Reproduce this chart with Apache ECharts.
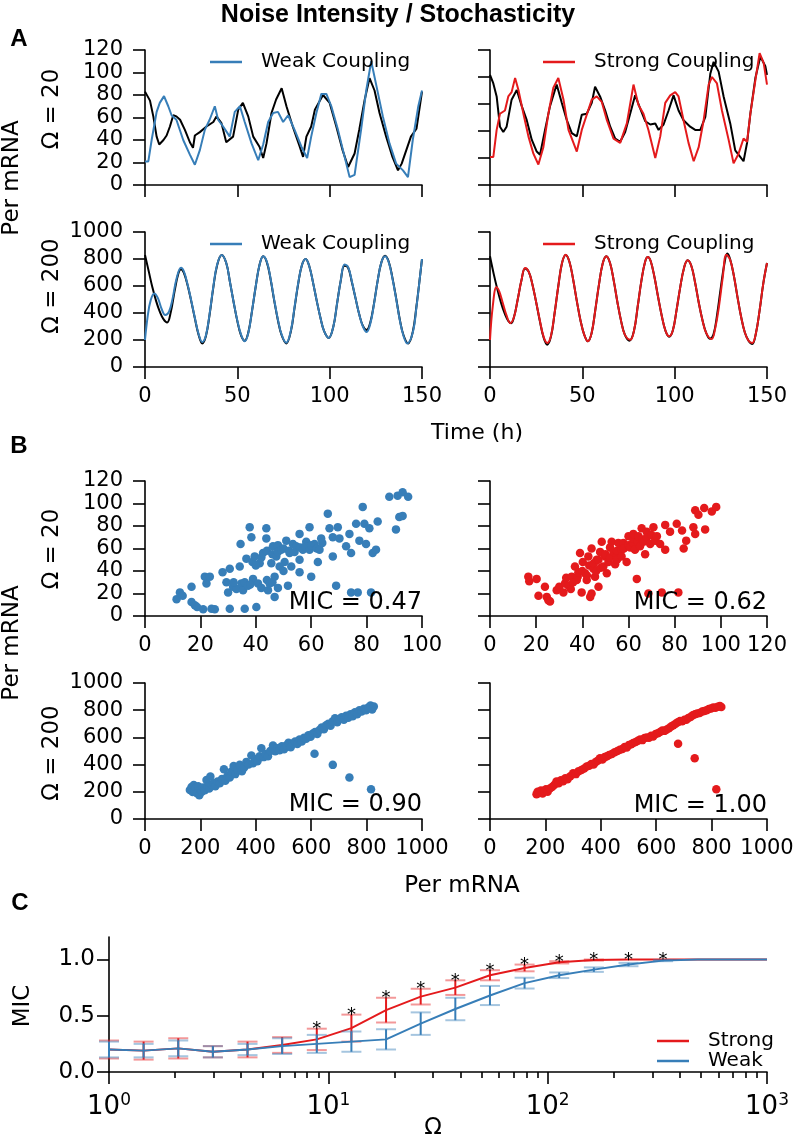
<!DOCTYPE html>
<html><head><meta charset="utf-8">
<script src="https://cdn.jsdelivr.net/npm/echarts@6/dist/echarts.min.js"></script>
<style>html,body{margin:0;padding:0;background:#fff}#c{width:796px;height:1140px}</style>
</head><body><div id="c"></div><script>
// ---------------- DATA ----------------
// Panel A, Omega = 20 (time h, Per mRNA)
const aTopWeakRef = [[0,83],[2.7,75],[4.5,61],[6.3,43],[7.7,36],[10,40],[11.7,44],[13.5,52],[15.3,62],[17,61],[19,58],[21.6,49],[24.3,38],[26,33],[27,44],[29.7,47],[33.3,52],[37,56],[38.7,61],[41.4,55],[44,38],[47.7,43],[50.5,67],[53,73],[55.9,61],[58.6,43],[62,34],[64,24],[65.8,37],[68.5,64],[71,76],[74,86],[76.6,70],[80,52],[83.8,34],[85.6,25],[87.4,43],[90,52],[92,67],[96.4,80],[100,73],[103.6,52],[107,31],[110,16],[113.5,28],[116,49],[119,76],[121.6,95],[124.3,84],[127,64],[130.6,43],[134,25],[137,13],[139,19],[144,43],[147,50],[150,83]];
const aTopWeak = [[0,21],[1.8,21],[3.6,40],[6.3,65],[8,73],[10.3,79],[12.6,70],[14.4,62],[17,58],[20.7,40],[24.3,27],[27,18],[29.7,31],[32.4,49],[35,58],[37.8,70],[39.6,58],[42.3,52],[45.9,43],[48.6,65],[51.4,70],[54,56],[57.7,37],[61.3,22],[64,36],[66.7,56],[69.4,64],[72,65],[74.8,56],[77.5,62],[81,49],[84.7,34],[87.8,24],[90,43],[92.8,64],[95.5,81],[98.2,81],[100.9,70],[104.5,49],[108.1,25],[110.8,7],[113.5,9],[117,49],[119.8,84],[122.5,110],[125.2,89],[128.8,61],[132.4,37],[136,19],[139.7,13],[142.4,7],[145,40],[148,70],[150,84]];
const aTopStrongRef = [[0,102],[1.8,94],[3.6,82],[5.4,54],[7.2,49],[9,54],[11.7,79],[14.5,88],[17.2,73],[19.9,60],[22.6,42],[25.3,31],[27.1,28],[29.8,51],[32.5,73],[36.1,93],[38.9,76],[41.6,60],[44.3,48],[47,45],[49.7,65],[52.4,66],[55.1,76],[56.9,91],[59.6,82],[62.4,69],[65.1,54],[67.8,43],[70.5,40],[73.2,49],[75.9,66],[78.6,83],[81.3,71],[84.1,59],[86.8,56],[89.5,57],[91.3,51],[94,56],[96.7,69],[99.4,83],[102.1,69],[104.8,60],[108.4,54],[111.1,51],[113.9,51],[116.6,63],[119.3,103],[121.1,114],[123.8,105],[126.5,82],[130.1,57],[132.8,32],[135.5,26],[137.3,22],[139.2,39],[141,66],[143.7,99],[146.4,119],[149.1,110],[150,102]];
const aTopStrong = [[0,26],[1.8,26],[3.6,51],[5.4,66],[8.1,69],[9.9,82],[11.7,86],[13.6,99],[15.4,88],[18.1,66],[20.8,45],[23.5,29],[26.2,19],[28.9,35],[31.6,66],[34.3,90],[37,99],[39.8,79],[42.5,51],[45.2,39],[47,31],[49.7,51],[52.4,65],[55.1,79],[57.8,82],[60.5,77],[63.3,60],[66.9,43],[70.5,39],[74.1,57],[77.7,93],[80.4,74],[83.1,66],[85.8,51],[89.5,25],[92.2,45],[94.9,76],[97.6,83],[100.3,86],[102.1,82],[104.8,60],[107.5,39],[110.3,22],[113,35],[115.7,60],[118.4,93],[120.2,100],[122.9,94],[125.6,69],[129.2,42],[131.9,20],[134.6,29],[137.3,43],[139.2,40],[141,66],[143.7,97],[146,122],[148.2,113],[150,93]];
// Panel A, Omega = 200
const aBotWeakRef = [[0,830],[2,710],[4,590],[6,490],[8,410],[10,355],[12,330],[14,410],[16,560],[18,690],[19.5,725],[21,700],[23,610],[25,490],[27,360],[29,240],[31,175],[33,230],[35,390],[37,590],[39,750],[41.5,830],[44,770],[46,630],[48,480],[50,340],[52,235],[54,195],[56,260],[58,420],[60,600],[62,755],[64,820],[66,775],[68,650],[70,490],[72,345],[74,235],[76.5,175],[79,265],[81,440],[83,620],[85,755],[87,800],[89,745],[91,625],[93,490],[95,365],[97,265],[99.5,215],[102,300],[104,470],[106,640],[108,750],[110,735],[112,630],[114,510],[116,390],[118,305],[120,275],[122,330],[124,470],[126,640],[128,775],[130,825],[132,780],[134,660],[136,510],[138,350],[140,235],[142.5,175],[145,260],[147,450],[149,680],[150,800]];
const aBotWeak = [[0,200],[1.5,380],[3,490],[5,545],[7,510],[9,430],[11,385],[13,410],[15,510],[17,650],[19.5,735],[21,710],[23,615],[25,495],[27,365],[29,245],[31,185],[33,235],[35,395],[37,595],[39,755],[41.5,830],[44,770],[46,630],[48,480],[50,345],[52,240],[54,190],[56,255],[58,420],[60,600],[62,755],[64,820],[66,780],[68,655],[70,495],[72,350],[74,240],[76.5,180],[79,270],[81,445],[83,625],[85,755],[87,800],[89,745],[91,625],[93,490],[95,365],[97,265],[99.5,215],[102,300],[104,470],[106,640],[108,760],[110,740],[112,635],[114,510],[116,390],[118,300],[120,260],[122,320],[124,465],[126,640],[128,775],[130,820],[132,775],[134,655],[136,505],[138,345],[140,230],[142,175],[145,255],[147,445],[149,680],[150,800]];
const aBotStrongRef = [[0,820],[2,690],[4,575],[6,475],[8,395],[10,340],[11.5,325],[13,370],[15,500],[17,640],[19,730],[21,705],[23,610],[25,480],[27,340],[29,220],[31,165],[33,225],[35,400],[37,600],[39,770],[41,830],[43,780],[45,650],[47,490],[49,345],[51,240],[53,190],[55,250],[57,420],[59,610],[61,765],[63,820],[65,770],[67,640],[69,480],[71,340],[73,240],[75.5,195],[78,270],[80,450],[82,640],[84,780],[85.5,815],[87,785],[89,670],[91,520],[93,380],[95,270],[97,225],[99,270],[101,420],[103,590],[105,730],[107,790],[109,750],[111,630],[113,480],[115,350],[117,255],[119,210],[121,240],[123,390],[125,590],[127,770],[128.5,840],[130,800],[132,680],[134,520],[136,370],[138,255],[140,195],[142,170],[144,250],[146,420],[148,620],[150,770]];
const aBotStrong = [[0,200],[1.5,450],[3.5,590],[5,560],[7,470],[9,380],[11,325],[13,370],[15,500],[17,640],[19,733],[21,705],[23,610],[25,480],[27,345],[29,225],[31,178],[33,230],[35,400],[37,600],[39,770],[41,832],[43,780],[45,650],[47,490],[49,345],[51,240],[53,190],[55,250],[57,420],[59,610],[61,765],[63,820],[65,770],[67,640],[69,480],[71,340],[73,240],[76,202],[78,270],[80,450],[82,640],[84,780],[85.5,815],[87,785],[89,670],[91,520],[93,380],[95,270],[97,227],[99,270],[101,420],[103,590],[105,730],[107,790],[109,750],[111,630],[113,480],[115,350],[117,255],[120,207],[122,290],[124,450],[126,660],[128,832],[130,795],[132,680],[134,520],[136,370],[138,255],[140,195],[142,178],[144,250],[146,420],[148,620],[150,770]];

// Panel B scatter (x = reference Per mRNA, y = coupled Per mRNA)
const bWeak20 = [[11.4,15],[12.6,21],[13.6,18],[16.8,26],[16.8,12.5],[18,9.5],[18.8,8],[21,6],[21.6,35],[22.2,29],[23.4,35],[24,6.5],[25.2,6],[28,39],[29.4,30],[30,21],[30.6,42],[30.6,6.5],[31.8,26],[33,24],[32,30],[34.2,44],[34.5,64],[34.8,29],[35.4,23],[36,6.5],[36,30],[36.6,51],[37.2,27],[37.8,79],[38.4,70],[38.8,48],[39,33],[38,28],[39.6,53],[40.2,8],[40.8,29],[41.4,47],[40,45],[42,52],[42,25],[42.6,56],[43.8,78],[43.8,69],[44.4,23],[44,32],[44,58],[45,29],[45.6,47],[46.2,62],[46,55],[46.8,35],[46.8,17],[46,30],[47.4,53],[48,63],[48,57],[48,25],[48.6,44],[49.2,59],[50.4,48],[50,60],[50,40],[51,67],[51.6,27],[52.2,56],[52,58],[52.8,44],[53.4,64],[54,57],[54.6,62],[55.8,73],[55.8,50],[55.8,39],[56,61],[57,59],[58.2,66],[58,62],[59.4,79],[59.4,59],[60,35],[60,63],[61.2,64],[62.4,48],[62,60],[63,59],[63.6,69],[64,65],[66,91],[66.6,78],[67.8,70],[67.8,53],[69,27],[69.6,79],[70.2,69],[72.6,62],[73.8,73],[74.4,56],[74.4,21],[76.2,82],[76.8,21],[77.4,67],[78.6,97],[79.2,82],[79.8,64],[81,78],[81.6,21],[82.2,56],[83.4,59],[84,84],[88.2,106],[90.6,77],[91.2,107],[91.8,88],[93,110],[93,89],[95,106]];
const bStrong20 = [[16.6,35],[17,31],[20.2,33],[21,18],[23.8,26],[24.6,17],[25.3,14],[26,13],[28.9,23],[30,26],[31.8,21],[32.5,29],[33,34],[34,27],[35,24],[35.4,35],[36,30],[36.8,44],[37.6,32],[38,35],[38.3,39],[39,56],[39.7,21],[40,40],[40.2,48],[41.2,38],[41.9,32],[42,36],[42.6,53],[43,45],[43.4,17],[44,60],[44,20],[44.8,42],[45,47],[45.5,35],[46,40],[46.2,50],[47,26],[47,50],[47.7,57],[48,43],[48.4,66],[49.1,44],[49.9,53],[50,55],[50.6,38],[51.3,48],[52,61],[52,52],[52.7,66],[53.5,57],[54.2,46],[54.9,53],[55,58],[55,50],[55.6,65],[57,59],[57,53],[57.8,65],[58,60],[59.2,48],[60,71],[60,63],[60.7,61],[62,65],[62,69],[62.1,73],[62.8,59],[63.6,33],[64,66],[64.3,71],[65,62],[65.7,78],[66,68],[66.5,66],[67.2,55],[67.9,75],[68,70],[68.6,20],[69.4,64],[70,72],[70.8,79],[71.5,67],[72.3,71],[73.7,64],[74.4,21],[75.9,81],[75.9,59],[78,75],[80.9,82],[81.6,21],[83.2,76],[83.9,60],[85,67],[88.1,79],[88.9,73],[88.9,94],[90.3,90],[92.8,96],[93.2,77],[96.1,93],[98,97]];
const bWeak200 = [[162,214],[168,235],[172,198],[176,250],[180,205],[184,228],[188,190],[192,240],[196,175],[200,215],[205,200],[210,232],[216,212],[222,287],[226,240],[232,225],[236,312],[242,250],[248,262],[254,240],[262,275],[270,262],[278,295],[285,365],[290,282],[298,318],[306,305],[312,350],[320,390],[326,330],[334,362],[342,398],[350,352],[358,378],[366,420],[374,400],[384,467],[390,410],[398,440],[406,425],[414,462],[420,521],[428,455],[436,478],[444,462],[452,500],[462,540],[470,498],[478,520],[486,505],[494,535],[502,512],[510,540],[518,560],[526,528],[534,555],[542,570],[550,552],[558,585],[566,570],[574,598],[582,590],[590,615],[598,605],[606,628],[614,640],[622,625],[630,655],[638,672],[646,660],[654,690],[662,700],[670,685],[678,718],[686,740],[694,712],[702,735],[710,748],[718,730],[726,760],[734,745],[742,770],[750,755],[758,785],[766,770],[774,800],[782,790],[790,810],[798,800],[806,820],[814,835],[820,805],[826,828],[612,479],[678,398],[738,305],[816,219]];
const bStrong200 = [[168,182],[172,200],[178,192],[184,210],[190,188],[196,205],[202,218],[208,200],[216,225],[224,235],[232,250],[240,275],[248,262],[256,285],[264,278],[272,300],[280,292],[290,315],[300,337],[310,330],[320,352],[330,360],[340,372],[349,386],[358,392],[366,405],[374,400],[382,420],[390,430],[397,447],[406,438],[414,455],[422,462],[430,470],[440,478],[450,490],[460,500],[469,509],[478,515],[486,530],[494,525],[502,545],[510,550],[517,558],[526,566],[534,575],[542,585],[550,580],[558,595],[566,600],[574,598],[582,612],[589,607],[598,625],[606,630],[614,640],[622,650],[630,648],[637,656],[646,668],[654,680],[662,690],[670,700],[678,712],[686,720],[694,718],[702,730],[709,730],[716,742],[724,750],[732,762],[740,770],[748,775],[757,779],[766,790],[774,795],[782,800],[790,808],[798,812],[806,820],[814,818],[822,826],[830,830],[835,823],[679,553],[739,447],[817,219]];
const micLabels = ['MIC = 0.47', 'MIC = 0.62', 'MIC = 0.90', 'MIC = 1.00'];

// Panel C
const omega = [1, 1.438, 2.069, 2.976, 4.281, 6.158, 8.859, 12.74, 18.33, 26.37, 37.93, 54.56, 78.48, 112.9, 162.4, 233.6, 336.0, 483.3, 695.2, 1000];
const strongMean = [0.20,0.19,0.21,0.18,0.20,0.24,0.29,0.39,0.55,0.67,0.75,0.86,0.925,0.975,0.995,1.0,1.0,1.0,1.0,1.0];
const strongErr  = [0.08,0.08,0.09,0.05,0.07,0.07,0.095,0.12,0.11,0.07,0.065,0.045,0.03,0.01,0.005,0,0,0,0,0];
const weakMean   = [0.20,0.19,0.21,0.18,0.20,0.23,0.25,0.27,0.29,0.43,0.56,0.68,0.79,0.86,0.91,0.955,0.99,1.0,1.0,1.0];
const weakErr    = [0.07,0.06,0.07,0.05,0.05,0.07,0.08,0.09,0.09,0.10,0.10,0.085,0.048,0.025,0.02,0.015,0.005,0,0,0];
const significant = [0,0,0,0,0,0,1,1,1,1,1,1,1,1,1,1,1,0,0,0];
const cYTicks = [0, 0.5, 1.0];
const cMinorTicks = [2,3,4,5,6,7,8,9,20,30,40,50,60,70,80,90,200,300,400,500,600,700,800,900];

// ---------------- CHART ----------------
const FONT = 'DejaVu Sans';
const BLUE = '#377eb8', RED = '#e41a1c';
const chart = echarts.init(document.getElementById('c'), null, {renderer: 'canvas'});

const grids = [
  {left:145, top:50, width:277, height:135},
  {left:490, top:50, width:277, height:135},
  {left:145, top:232, width:277, height:135},
  {left:490, top:232, width:277, height:135},
  {left:145, top:481, width:277, height:135},
  {left:490, top:481, width:277, height:135},
  {left:145, top:683, width:277, height:136},
  {left:490, top:683, width:277, height:136},
  {left:109, top:937, width:658, height:135}
].map(g => Object.assign({outerBoundsMode:'none', containLabel:false}, g));

const lineSt = {color:'#000', width:1.6};
function valAxis(gridIndex, min, max, interval, showLabel, margin, pos) {
  return {
    type:'value', gridIndex, min, max, interval, position: pos,
    axisLine:{show:true, onZero:false, lineStyle:lineSt},
    axisTick:{show:true, length:12, lineStyle:lineSt},
    axisLabel:{show:showLabel, margin, color:'#000', fontFamily:FONT, fontSize:21, formatter: v => String(v)},
    splitLine:{show:false}
  };
}
const xAxes = [
  valAxis(0,0,150,50,false,19,'bottom'),
  valAxis(1,0,150,50,false,19,'bottom'),
  valAxis(2,0,150,50,true,19,'bottom'),
  valAxis(3,0,150,50,true,19,'bottom'),
  valAxis(4,0,100,20,true,19,'bottom'),
  valAxis(5,0,120,20,true,19,'bottom'),
  valAxis(6,0,1000,200,true,19,'bottom'),
  valAxis(7,0,1000,200,true,19,'bottom'),
  {
    type:'log', logBase:10, gridIndex:8, min:1, max:1000, position:'bottom',
    axisLine:{show:true, onZero:false, lineStyle:lineSt},
    axisTick:{show:true, length:12, lineStyle:lineSt},
    axisLabel:{margin:20, color:'#000', fontFamily:FONT,
      formatter: v => '{b|10}{s|' + Math.round(Math.log10(v)) + '}',
      rich:{ b:{fontSize:26, lineHeight:28, verticalAlign:'bottom', fontFamily:FONT, color:'#000'},
             s:{fontSize:17, lineHeight:17, verticalAlign:'top', fontFamily:FONT, color:'#000'} } },
    splitLine:{show:false}
  },
  {
    type:'log', logBase:10, gridIndex:8, min:1, max:1000, position:'bottom',
    axisLine:{show:false},
    axisTick:{show:true, length:6, customValues:cMinorTicks, lineStyle:lineSt},
    axisLabel:{show:false},
    splitLine:{show:false}
  }
];
const yAxes = [
  valAxis(0,0,120,20,true,22,'left'),
  valAxis(1,0,125,25,false,22,'left'),
  valAxis(2,0,1000,200,true,22,'left'),
  valAxis(3,0,1000,200,false,22,'left'),
  valAxis(4,0,120,20,true,22,'left'),
  valAxis(5,0,120,20,false,22,'left'),
  valAxis(6,0,1000,200,true,22,'left'),
  valAxis(7,0,1000,200,false,22,'left'),
  {
    type:'value', gridIndex:8, min:0, max:1.2, interval:0.5, position:'left',
    axisLine:{show:true, onZero:false, lineStyle:lineSt},
    axisTick:{show:true, length:12, customValues:cYTicks, lineStyle:lineSt},
    axisLabel:{margin:14, customValues:cYTicks, color:'#000', fontFamily:FONT, fontSize:23, formatter: v => v.toFixed(1)},
    splitLine:{show:false}
  }
];

function lineSeries(idx, data, color, name, smooth, z) {
  return {type:'line', name, xAxisIndex:idx, yAxisIndex:idx, data, symbol:'none', smooth,
    lineStyle:{color, width:2}, itemStyle:{color}, z, emphasis:{disabled:true}, silent:true};
}
function scatterSeries(idx, data, color) {
  return {type:'scatter', xAxisIndex:idx, yAxisIndex:idx, data, symbol:'circle', symbolSize:8.5,
    itemStyle:{color, opacity:1}, emphasis:{disabled:true}, silent:true};
}
function errRender(color, capColor, withStar) {
  return function (params, api) {
    const x = api.value(0), m = api.value(1), e = api.value(2), st = api.value(3);
    const top = api.coord([x, m + e]), bot = api.coord([x, m - e]);
    const ch = [];
    if (e > 0) {
      ch.push({type:'line', shape:{x1:top[0], y1:top[1], x2:bot[0], y2:bot[1]}, style:{stroke:color, lineWidth:2}});
      ch.push({type:'line', shape:{x1:top[0]-10, y1:top[1], x2:top[0]+10, y2:top[1]}, style:{stroke:capColor, lineWidth:2}});
      ch.push({type:'line', shape:{x1:bot[0]-10, y1:bot[1], x2:bot[0]+10, y2:bot[1]}, style:{stroke:capColor, lineWidth:2}});
    }
    if (withStar && st) {
      ch.push({type:'text', x:top[0], y:top[1]+1, style:{text:'*', fill:'#000', font:'18px "DejaVu Sans"',
        align:'center', verticalAlign:'middle', textAlign:'center', textVerticalAlign:'middle'}});
    }
    return {type:'group', children:ch};
  };
}

const series = [
  lineSeries(0, aTopWeakRef, '#000', 'refA1', false, 2),
  lineSeries(0, aTopWeak, BLUE, 'Weak Coupling', false, 3),
  lineSeries(1, aTopStrongRef, '#000', 'refA2', false, 2),
  lineSeries(1, aTopStrong, RED, 'Strong Coupling', false, 3),
  lineSeries(2, aBotWeakRef, '#000', 'refA3', 0.4, 2),
  lineSeries(2, aBotWeak, BLUE, 'Weak Coupling', 0.4, 3),
  lineSeries(3, aBotStrongRef, '#000', 'refA4', 0.4, 2),
  lineSeries(3, aBotStrong, RED, 'Strong Coupling', 0.4, 3),
  scatterSeries(4, bWeak20, BLUE),
  scatterSeries(5, bStrong20, RED),
  scatterSeries(6, bWeak200, BLUE),
  scatterSeries(7, bStrong200, RED),
  lineSeries(8, omega.map((w,i)=>[w, strongMean[i]]), RED, 'Strong', false, 2),
  {type:'custom', xAxisIndex:8, yAxisIndex:8, silent:true, z:3,
    data: omega.map((w,i)=>[w, strongMean[i], strongErr[i], significant[i]]),
    renderItem: errRender(RED, 'rgba(228,26,28,0.45)', true)},
  lineSeries(8, omega.map((w,i)=>[w, weakMean[i]]), BLUE, 'Weak', false, 4),
  {type:'custom', xAxisIndex:8, yAxisIndex:8, silent:true, z:5,
    data: omega.map((w,i)=>[w, weakMean[i], weakErr[i], 0]),
    renderItem: errRender(BLUE, 'rgba(55,126,184,0.45)', false)}
];

function legendAt(names, left, top, orient) {
  return {data:names.map(n => ({name:n, icon:'rect'})), left, top, orient: orient || 'horizontal',
    itemWidth:32, itemHeight:2.5, itemGap:0, selectedMode:false,
    textStyle:{fontFamily:FONT, fontSize:20, color:'#000', padding:[0,0,0,14], lineHeight:19}};
}
const legends = [
  legendAt(['Weak Coupling'], 205, 47),
  legendAt(['Strong Coupling'], 538, 47),
  legendAt(['Weak Coupling'], 205, 229),
  legendAt(['Strong Coupling'], 538, 229),
  legendAt(['Strong', 'Weak'], 652, 1026, 'vertical')
];

function txt(text, x, y, size, opts) {
  opts = opts || {};
  return {type:'text', x, y, rotation: opts.rot || 0, silent:true, z:100,
    style:{text, fill:'#000', font:(opts.bold ? 'bold ' : '') + size + 'px ' + (opts.family || '"DejaVu Sans"'),
      align: opts.align || 'center', textAlign: opts.align || 'center',
      verticalAlign:'middle', textVerticalAlign:'middle'}};
}
const R = Math.PI / 2;
const graphic = [
  txt('Noise Intensity / Stochasticity', 398, 15, 25, {bold:true, family:'"Liberation Sans"'}),
  txt('A', 19, 39, 24, {bold:true, family:'"Liberation Sans"'}),
  txt('B', 19, 446, 24, {bold:true, family:'"Liberation Sans"'}),
  txt('C', 20, 903, 24, {bold:true, family:'"Liberation Sans"'}),
  txt('Per mRNA', 12, 178, 23, {rot:R}),
  txt('Ω = 20', 52, 109, 23, {rot:R}),
  txt('Ω = 200', 52, 286, 23, {rot:R}),
  txt('Time (h)', 477, 433, 22),
  txt('Per mRNA', 12, 643, 23, {rot:R}),
  txt('Ω = 20', 52, 549, 23, {rot:R}),
  txt('Ω = 200', 52, 753, 23, {rot:R}),
  txt('Per mRNA', 462, 886, 23),
  txt(micLabels[0], 422, 603, 24, {align:'right'}),
  txt(micLabels[1], 767, 603, 24, {align:'right'}),
  txt(micLabels[2], 422, 805, 24, {align:'right'}),
  txt(micLabels[3], 767, 806, 24, {align:'right'}),
  txt('MIC', 23, 1006, 23, {rot:R}),
  txt('Ω', 433, 1128, 23)
];

chart.setOption({
  animation:false,
  backgroundColor:'#fff',
  grid: grids,
  xAxis: xAxes,
  yAxis: yAxes,
  legend: legends,
  series,
  graphic
});
</script></body></html>
